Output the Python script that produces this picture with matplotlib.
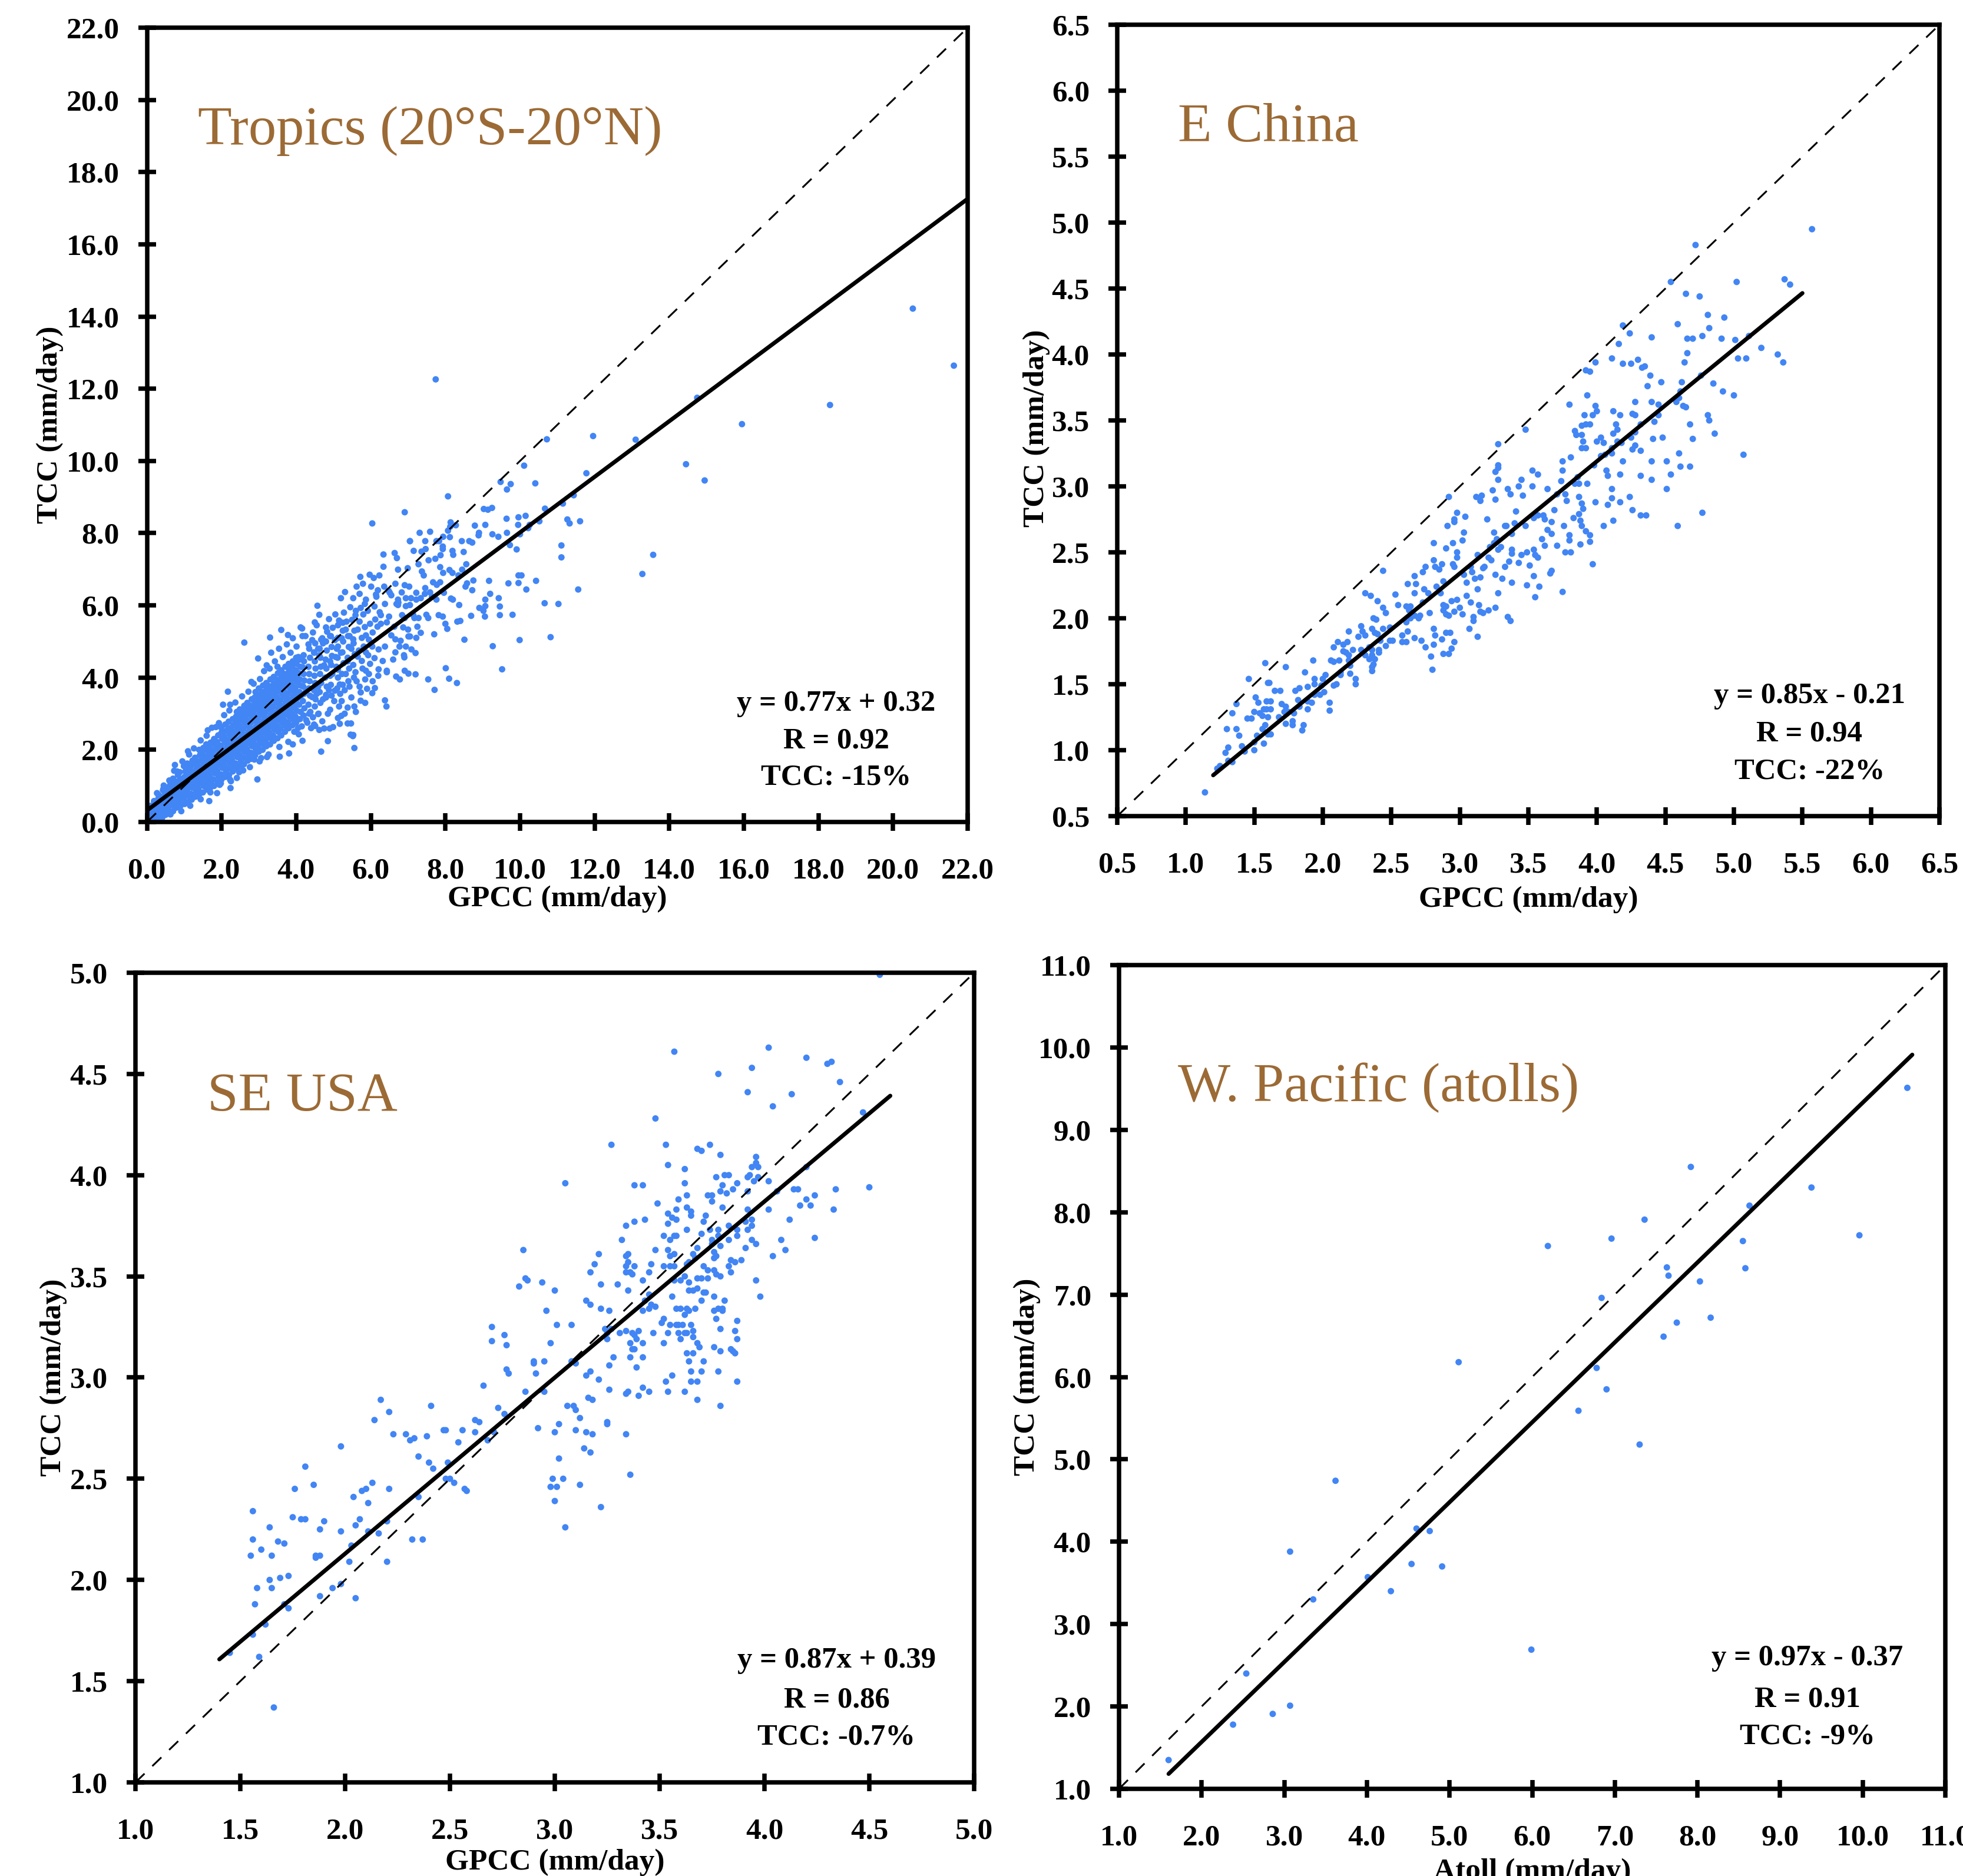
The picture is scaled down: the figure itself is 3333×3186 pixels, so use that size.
import numpy as np
import matplotlib
matplotlib.use("Agg")
import matplotlib.pyplot as plt
from matplotlib.ticker import FormatStrFormatter, MultipleLocator

plt.rcParams['font.family'] = ['Liberation Serif', 'DejaVu Serif']

DOT_COLOR = '#4285F4'
TITLE_COLOR = '#9C6A35'

# ---------------- Tropics (20S-20N) ----------------
tropics_core = [
    (0.04,0.02),(0.07,0.10),(0.03,0.20),(0.06,0.35),
    (0.12,0.05),(0.10,0.15),(0.14,0.30),(0.11,0.45),
    (0.20,0.06),(0.22,0.18),(0.18,0.30),(0.21,0.42),(0.19,0.58),
    (0.30,0.08),(0.28,0.20),(0.32,0.34),(0.29,0.50),(0.31,0.66),(0.27,0.80),
    (0.41,0.12),(0.38,0.25),(0.42,0.40),(0.39,0.55),(0.40,0.70),(0.43,0.88),
    (0.50,0.20),(0.52,0.32),(0.48,0.48),(0.51,0.62),(0.49,0.78),(0.52,0.95),
    (0.61,0.28),(0.58,0.42),(0.62,0.55),(0.60,0.70),(0.59,0.85),(0.62,1.02),
    (0.70,0.30),(0.72,0.45),(0.68,0.60),(0.71,0.75),(0.69,0.90),(0.72,1.05),(0.70,1.20),
    (0.79,0.40),(0.82,0.55),(0.80,0.70),(0.78,0.84),(0.81,0.98),(0.80,1.12),(0.83,1.30),
    (0.90,0.45),(0.88,0.60),(0.92,0.75),(0.89,0.90),(0.91,1.05),(0.90,1.20),(0.88,1.38),
    (1.01,0.50),(0.99,0.66),(1.02,0.80),(1.00,0.95),(0.98,1.10),(1.01,1.25),(1.03,1.40),(0.99,1.55),
    (1.10,0.55),(1.12,0.72),(1.08,0.88),(1.11,1.02),(1.09,1.18),(1.12,1.32),(1.10,1.48),(1.08,1.62),
    (1.20,0.62),(1.18,0.78),(1.22,0.95),(1.19,1.10),(1.21,1.25),(1.20,1.40),(1.18,1.55),(1.22,1.70),
    (1.30,0.70),(1.32,0.85),(1.29,1.00),(1.31,1.15),(1.28,1.30),(1.32,1.45),(1.30,1.60),(1.29,1.78),
    (1.41,0.78),(1.38,0.92),(1.42,1.08),(1.40,1.22),(1.39,1.38),(1.41,1.52),(1.38,1.68),(1.42,1.85),(1.40,2.00),
    (1.50,0.82),(1.52,1.00),(1.48,1.15),(1.51,1.30),(1.49,1.45),(1.52,1.60),(1.50,1.75),(1.48,1.90),(1.51,2.05),
    (1.61,0.90),(1.59,1.05),(1.62,1.20),(1.60,1.36),(1.58,1.52),(1.61,1.68),(1.60,1.82),(1.62,1.98),(1.59,2.15),
    (1.70,0.95),(1.72,1.10),(1.68,1.28),(1.71,1.44),(1.69,1.60),(1.72,1.75),(1.70,1.90),(1.68,2.05),(1.71,2.20),
    (1.80,1.00),(1.78,1.18),(1.82,1.35),(1.79,1.50),(1.81,1.66),(1.80,1.82),(1.78,1.98),(1.82,2.14),(1.80,2.30),
    (1.90,1.10),(1.92,1.25),(1.88,1.42),(1.91,1.58),(1.89,1.74),(1.92,1.90),(1.90,2.05),(1.88,2.22),(1.91,2.40),
    (2.00,1.18),(1.98,1.32),(2.02,1.50),(2.00,1.65),(1.99,1.80),(2.01,1.96),(1.98,2.12),(2.02,2.30),(2.00,2.48),(1.99,2.62),
    (2.10,1.25),(2.12,1.40),(2.08,1.56),(2.11,1.72),(2.09,1.88),(2.12,2.04),(2.10,2.20),(2.08,2.36),(2.11,2.52),(2.10,2.70),
    (2.20,1.30),(2.18,1.48),(2.22,1.64),(2.19,1.80),(2.21,1.96),(2.20,2.12),(2.18,2.28),(2.22,2.44),(2.20,2.60),(2.19,2.78),
    (2.30,1.40),(2.32,1.55),(2.28,1.72),(2.31,1.88),(2.29,2.04),(2.32,2.20),(2.30,2.36),(2.28,2.52),(2.31,2.68),(2.30,2.85),
    (2.40,1.48),(2.38,1.62),(2.42,1.80),(2.39,1.96),(2.41,2.12),(2.40,2.28),(2.38,2.44),(2.42,2.60),(2.40,2.76),(2.39,2.92),(2.41,3.05),
    (2.50,1.55),(2.52,1.70),(2.48,1.86),(2.51,2.02),(2.49,2.18),(2.52,2.34),(2.50,2.50),(2.48,2.66),(2.51,2.82),(2.50,2.98),(2.49,3.12),
    (2.60,1.60),(2.58,1.78),(2.62,1.94),(2.59,2.10),(2.61,2.26),(2.60,2.42),(2.58,2.58),(2.62,2.74),(2.60,2.90),(2.59,3.06),(2.61,3.22),
    (2.70,1.70),(2.72,1.85),(2.68,2.02),(2.71,2.18),(2.69,2.34),(2.72,2.50),(2.70,2.66),(2.68,2.82),(2.71,2.98),(2.70,3.14),(2.69,3.30),
    (2.80,1.75),(2.78,1.92),(2.82,2.10),(2.79,2.26),(2.81,2.42),(2.80,2.58),(2.78,2.74),(2.82,2.90),(2.80,3.06),(2.79,3.22),(2.81,3.40),
    (2.90,1.85),(2.92,2.00),(2.88,2.16),(2.91,2.32),(2.89,2.48),(2.92,2.64),(2.90,2.80),(2.88,2.96),(2.91,3.12),(2.90,3.28),(2.89,3.45),(2.91,3.60),
    (3.00,1.95),(2.98,2.10),(3.02,2.25),(2.99,2.40),(3.01,2.56),(3.00,2.72),(2.98,2.88),(3.02,3.04),(3.00,3.20),(2.99,3.36),(3.01,3.52),(3.00,3.70),
    (3.10,2.00),(3.12,2.16),(3.08,2.32),(3.11,2.48),(3.09,2.64),(3.12,2.80),(3.10,2.96),(3.08,3.12),(3.11,3.28),(3.10,3.44),(3.09,3.60),(3.11,3.78),
    (3.20,2.10),(3.18,2.25),(3.22,2.40),(3.19,2.56),(3.21,2.72),(3.20,2.88),(3.18,3.04),(3.22,3.20),(3.20,3.36),(3.19,3.52),(3.21,3.68),(3.20,3.85),
    (3.30,2.15),(3.32,2.32),(3.28,2.48),(3.31,2.64),(3.29,2.80),(3.32,2.96),(3.30,3.12),(3.28,3.28),(3.31,3.44),(3.30,3.60),(3.29,3.76),(3.31,3.95),
    (3.40,2.25),(3.38,2.40),(3.42,2.56),(3.39,2.72),(3.41,2.88),(3.40,3.04),(3.38,3.20),(3.42,3.36),(3.40,3.52),(3.39,3.68),(3.41,3.84),(3.40,4.02),
    (3.50,2.32),(3.52,2.50),(3.48,2.66),(3.51,2.82),(3.49,2.98),(3.52,3.14),(3.50,3.30),(3.48,3.46),(3.51,3.62),(3.50,3.78),(3.49,3.94),(3.51,4.12),(3.50,4.30),
    (3.60,2.40),(3.58,2.58),(3.62,2.74),(3.59,2.90),(3.61,3.06),(3.60,3.22),(3.58,3.38),(3.62,3.54),(3.60,3.70),(3.59,3.86),(3.61,4.02),(3.60,4.20),
    (3.70,2.50),(3.72,2.66),(3.68,2.82),(3.71,2.98),(3.69,3.14),(3.72,3.30),(3.70,3.46),(3.68,3.62),(3.71,3.78),(3.70,3.94),(3.69,4.10),(3.71,4.30),
    (3.80,2.60),(3.78,2.76),(3.82,2.92),(3.79,3.08),(3.81,3.24),(3.80,3.40),(3.78,3.56),(3.82,3.72),(3.80,3.88),(3.79,4.04),(3.81,4.20),(3.80,4.38),
    (3.90,2.68),(3.92,2.84),(3.88,3.00),(3.91,3.16),(3.89,3.32),(3.92,3.48),(3.90,3.64),(3.88,3.80),(3.91,3.96),(3.90,4.12),(3.89,4.30),(3.91,4.45),
    (4.00,2.75),(3.98,2.92),(4.02,3.08),(3.99,3.24),(4.01,3.40),(4.00,3.56),(3.98,3.72),(4.02,3.88),(4.00,4.04),(3.99,4.20),(4.01,4.38),(4.00,4.55),
    (4.10,2.85),(4.12,3.05),(4.08,3.25),(4.11,3.45),(4.09,3.60),(4.12,3.78),(4.10,3.95),(4.08,4.12),(4.11,4.30),(4.10,4.50),
    (4.20,2.95),(4.22,3.15),(4.18,3.35),(4.21,3.55),(4.19,3.75),(4.22,3.92),(4.20,4.10),(4.18,4.28),(4.21,4.45),(4.20,4.62),
    (4.35,3.00),(4.33,3.25),(4.37,3.50),(4.34,3.70),(4.36,3.90),(4.35,4.10),(4.33,4.30),(4.37,4.55),(4.35,4.80),
    (4.50,3.20),(4.52,3.40),(4.48,3.65),(4.51,3.85),(4.49,4.05),(4.52,4.25),(4.50,4.45),(4.48,4.70),(4.51,4.95),
    (4.65,3.30),(4.63,3.60),(4.67,3.85),(4.64,4.10),(4.66,4.30),(4.65,4.55),(4.63,4.80),(4.67,5.05),
    (4.80,3.45),(4.82,3.75),(4.78,4.00),(4.81,4.25),(4.79,4.50),(4.82,4.75),(4.80,5.00),
    (4.95,3.50),(4.93,3.80),(4.97,4.10),(4.94,4.35),(4.96,4.60),(4.95,4.85),(4.93,5.15),
    (5.10,3.70),(5.12,4.00),(5.08,4.30),(5.11,4.55),(5.09,4.80),(5.12,5.10),
    (5.25,3.80),(5.23,4.10),(5.27,4.40),(5.24,4.70),(5.26,5.00),(5.25,5.30),
    (5.40,3.90),(5.42,4.25),(5.38,4.55),(5.41,4.85),(5.39,5.15),
    (5.55,4.00),(5.53,4.35),(5.57,4.65),(5.54,4.95),(5.56,5.30),
    (3.95,2.50),(4.05,2.60),(4.15,2.65),(4.30,2.75),(4.45,2.90),(4.60,3.00),
]

tropics_fringe = [
    (4.12,5.39),(4.17,5.15),(4.33,4.92),(4.43,5.04),(4.59,4.80),(4.48,4.69),(4.70,5.09),(4.83,5.27),
    (4.91,5.15),(5.04,5.04),(5.12,4.86),(5.22,5.09),(5.33,5.33),(5.43,5.15),(5.20,4.69),(5.06,4.57),
    (4.91,4.45),(4.75,4.34),(5.38,4.45),(5.48,4.80),(5.12,4.22),(5.33,4.10),(4.91,4.05),(5.17,3.81),
    (5.43,3.75),(5.04,3.64),(4.80,3.52),(4.59,3.75),(4.43,3.46),(4.27,3.64),(5.22,3.35),(5.38,3.17),
    (4.91,3.11),(4.59,2.99),(5.12,2.88),(4.38,3.05),(4.27,2.82),(4.48,2.70),(4.70,2.79),
    (3.54,4.80),(3.75,4.92),(3.85,4.69),(4.01,4.86),(3.64,4.57),(3.43,4.45),(3.29,4.25),(3.14,4.18),
    (3.03,3.96),(2.86,3.83),(2.72,3.61),(2.55,3.48),(2.37,3.31),(2.21,3.09),(2.07,2.96),(1.93,2.74),
    (1.74,2.61),(1.60,2.39),(1.44,2.26),(1.26,2.04),(1.13,1.87),(0.95,1.68),(0.81,1.40),(0.60,1.15),
    (0.44,0.92),(3.33,4.69),(3.91,5.09),(4.06,4.57),
    (1.44,0.63),(1.70,0.82),(1.95,1.03),(2.23,1.17),(2.47,1.38),(2.76,1.52),(3.02,1.68),(3.26,1.87),
    (3.55,2.08),(3.79,2.22),(4.07,2.43),(1.16,0.45),(0.92,0.30),(0.63,0.21),(0.37,0.12),
    (4.45,5.25),(4.55,5.45),(4.62,4.62),(4.72,4.95),(4.88,5.62),(4.98,5.38),(5.05,5.75),(5.15,5.58),
    (5.28,5.80),(5.35,5.55),(5.45,5.95),(5.50,5.60),(5.60,5.85),(5.70,5.55),(5.80,5.75),(5.92,5.85),
    (5.68,4.75),(5.78,4.25),(5.95,5.05),(6.05,5.25),(5.62,3.90),(5.85,3.95),(4.55,3.55),(4.72,3.40),
    (4.88,3.65),(5.02,3.35),(5.18,3.55),(5.30,3.65),(5.48,3.45),(5.15,3.20),(4.85,3.00),(5.30,3.00),
    (4.40,2.60),(4.62,2.55),(5.60,3.05),(5.85,3.30),(6.05,3.90),(6.20,4.05),(5.95,4.10),
]

tropics_outer = [
    (2.61,4.97),(2.98,4.53),(2.17,3.61),(2.04,3.25),(2.23,3.25),(2.80,3.88),(3.21,4.34),
    (3.30,5.11),(3.60,5.32),(3.78,5.18),(4.16,5.36),(4.25,5.15),(4.50,5.53),(4.57,5.99),
    (4.62,5.74),(4.80,5.39),(5.20,6.20),(5.31,6.37),(5.12,5.45),(5.25,5.52),
    (1.63,2.54),(1.85,2.63),(1.10,1.96),(0.75,1.58),(0.73,1.42),(0.45,1.01),(0.31,0.75),
    (1.67,0.58),(2.24,0.94),(1.88,0.80),(2.96,1.18),(3.56,1.81),(3.81,1.90),(4.67,1.95),
    (4.85,2.24),(5.47,2.73),(5.17,2.72),(5.46,2.42),(5.52,2.38),(4.75,2.59),(4.90,2.59),
    (4.99,2.63),(5.21,2.94),(4.51,2.66),(5.38,2.73),(4.17,2.25),(3.91,2.15),(3.06,1.77),
    (2.88,1.73),(3.22,1.80),(2.58,1.43),(2.41,1.22),(2.25,1.13),(1.98,1.07),
    (5.53,5.06),(5.65,5.33),(5.84,5.40),(5.87,5.17),(5.76,5.10),(5.98,5.49),(6.12,5.61),
    (6.27,5.73),(6.27,5.49),(6.18,5.41),(6.43,5.53),(6.49,5.69),(6.55,5.17),(6.66,5.06),
    (6.80,5.02),(6.77,4.86),(6.38,4.86),(6.21,4.78),(6.04,4.86),(5.93,4.62),(5.76,4.46),
    (5.65,4.58),(5.81,4.86),(5.87,4.70),(6.10,4.54),(6.32,4.46),(6.60,4.50),(6.89,4.62),
    (7.05,5.14),(5.59,4.15),(5.70,3.75),(5.90,3.69),(5.73,3.36),(5.56,3.20),(5.87,4.19),
    (6.21,4.23),(6.43,4.19),(5.98,4.38),(6.66,4.70),(6.94,4.86),(6.63,5.41),(6.91,5.65),
    (6.38,6.04),(6.24,5.81),(6.10,5.97),(5.84,6.04),(5.73,5.93),(5.59,5.73),(5.53,6.20),
    (5.70,6.32),(5.87,6.16),(6.01,6.52),(5.79,6.60),(5.62,6.52),(6.15,6.24),(6.69,6.04),
    (6.55,6.28),(6.83,6.36),(7.08,6.20),(7.14,5.73),(7.00,5.33),(7.22,5.10),
    (5.72,6.79),(5.97,6.85),(6.08,6.76),(6.23,6.83),(6.34,7.41),(6.34,7.07),(6.64,7.45),
    (6.70,7.31),(6.73,6.99),(6.99,7.03),(7.05,7.78),(7.28,7.14),(7.37,6.94),(7.42,6.83),
    (6.36,6.52),(6.19,6.42),(6.14,6.30),(6.51,6.35),(6.48,6.40),(6.66,6.60),(6.91,6.56),
    (7.03,6.52),(7.22,6.35),(7.46,6.48),(7.67,6.64),(7.77,6.57),(7.86,6.64),(7.96,6.35),
    (7.76,6.16),(7.59,6.36),(7.64,6.24),(7.45,6.32),(7.34,6.20),(7.22,6.16),(6.94,6.20),
    (6.73,6.16),(6.73,6.01),(6.74,6.08),(6.94,5.98),(7.05,6.01),(7.17,5.65),(7.28,5.65),
    (7.25,5.41),(7.34,5.24),(7.49,5.74),(7.54,5.65),(7.70,5.20),(7.82,5.73),(7.93,5.69),
    (6.84,5.73),(6.87,5.39),(7.01,5.14),(7.09,4.78),(7.20,4.68),(6.90,4.56),(6.91,4.19),
    (7.01,4.11),(6.78,3.95),(7.20,4.09),(7.54,3.95),(7.71,3.66),(6.43,4.15),(6.68,4.03),
    (6.38,3.37),(6.42,3.20),(5.73,3.59),(6.04,3.57),(6.11,3.71),(5.53,2.41),(5.56,2.05),
    (7.74,12.26),(10.72,10.60),(11.96,10.69),(13.10,10.59),(10.11,9.87),(11.78,9.66),
    (9.48,9.42),(9.75,9.36),(9.65,9.21),(10.41,9.38),(8.07,9.02),(6.91,8.58),(6.04,8.27),
    (9.03,8.67),(9.14,8.65),(9.25,8.70),(10.67,8.68),(11.15,8.82),(11.44,9.05),(11.27,8.38),
    (11.33,8.27),(11.61,8.33),(10.52,8.33),(10.26,8.23),(10.22,8.14),(9.64,8.40),(9.96,8.44),
    (10.15,8.48),(9.95,8.23),(10.00,7.97),(9.73,7.67),(9.91,7.55),(9.65,8.01),(9.42,7.90),
    (9.26,7.97),(9.07,8.23),(8.90,8.01),(8.89,7.94),(8.79,8.21),(8.64,7.78),(8.72,7.74),
    (8.44,7.78),(8.14,8.30),(8.28,8.22),(8.13,8.18),(8.07,8.07),(8.12,7.89),(7.94,7.90),
    (7.76,7.78),(7.83,7.78),(7.93,7.63),(7.93,7.56),(7.87,7.39),(7.73,7.29),(7.46,7.78),
    (7.59,8.04),(7.31,8.01),(7.05,7.78),(7.15,7.51),(7.36,7.49),(7.47,7.56),(7.55,7.25),
    (7.86,7.06),(7.94,6.90),(8.19,7.51),(8.21,7.40),(8.49,7.48),(8.11,6.98),(8.19,6.90),
    (8.35,6.83),(8.45,6.99),(8.56,7.14),(8.75,6.69),(8.58,6.61),(8.54,6.52),(8.72,6.42),
    (9.17,6.68),(9.20,6.32),(9.07,6.16),(9.07,5.98),(8.91,5.93),(9.02,5.85),(9.06,5.69),
    (8.69,5.71),(8.37,6.01),(8.15,6.19),(8.20,6.16),(8.32,5.55),(8.40,5.57),(8.51,5.05),
    (8.00,5.49),(8.05,5.35),(8.01,4.26),(8.10,3.97),(8.31,3.85),(9.27,4.87),(9.52,4.23),
    (9.99,5.04),(9.80,5.74),(9.43,6.20),(9.46,5.97),(9.46,5.73),(9.69,6.61),(9.96,6.62),
    (9.96,6.83),(10.04,6.83),(10.17,6.44),(10.43,6.68),(10.66,6.06),(11.03,6.04),(10.82,5.12),
    (11.56,6.44),(11.11,7.66),(11.11,7.33),(13.28,6.87),(13.57,7.40),(14.45,9.91),(14.95,9.46),
    (14.75,11.75),(15.95,11.02),(18.31,11.55),(20.53,14.22),(21.63,12.64),
]

# ---------------- E China ----------------
echina = [
    (1.14,0.68),(1.23,0.86),(1.25,0.88),(1.31,0.92),(1.34,0.91),(1.29,0.98),(1.31,1.02),(1.41,1.03),
    (1.43,0.99),(1.30,1.16),(1.37,1.16),(1.39,1.11),(1.34,1.28),(1.37,1.35),(1.46,1.54),(1.50,1.06),
    (1.50,1.00),(1.52,1.11),(1.57,1.05),(1.45,1.24),(1.48,1.24),(1.51,1.40),(1.53,1.36),(1.50,1.29),
    (1.54,1.28),(1.56,1.26),(1.57,1.31),(1.60,1.25),(1.59,1.31),(1.59,1.37),(1.62,1.37),(1.62,1.31),
    (1.56,1.16),(1.58,1.19),(1.60,1.12),(1.62,1.12),(1.60,1.51),(1.61,1.51),(1.58,1.66),(1.65,1.45),
    (1.69,1.45),(1.70,1.35),(1.73,1.33),(1.68,1.25),(1.72,1.29),(1.75,1.29),(1.73,1.20),(1.78,1.22),
    (1.78,1.19),(1.73,1.63),(1.79,1.28),(1.82,1.38),(1.83,1.33),(1.80,1.45),(1.83,1.47),(1.89,1.48),
    (1.89,1.37),(1.89,1.31),(1.92,1.36),(1.86,1.19),(1.85,1.15),(1.87,1.59),(1.93,1.68),(1.94,1.54),
    (1.94,1.50),(1.94,1.42),(1.98,1.42),(2.01,1.44),(1.99,1.49),(2.00,1.54),(2.02,1.57),(2.05,1.36),
    (2.05,1.30),(2.06,1.68),(2.08,1.67),(2.08,1.78),(2.11,1.82),(2.12,1.68),(2.08,1.49),(2.10,1.50),
    (2.13,1.57),(2.13,1.59),(2.15,1.80),(2.18,1.82),(2.19,1.90),(2.15,1.75),(2.17,1.74),(2.19,1.68),
    (2.20,1.64),(2.20,1.58),(2.19,1.72),(2.22,1.76),(2.24,1.54),(2.24,1.50),(2.26,1.86),(2.28,1.94),
    (2.29,1.90),(2.31,1.87),(2.28,1.76),(2.31,2.19),(2.35,2.17),(2.34,1.78),(2.31,1.72),(2.36,1.76),
    (2.34,1.69),(2.36,1.63),(2.36,1.60),(2.37,1.65),(2.38,1.69),(2.36,1.72),(2.36,1.92),(2.37,2.00),
    (2.39,1.99),(2.40,2.13),(2.38,1.89),(2.40,1.88),(2.42,1.83),(2.41,1.76),(2.41,1.74),(2.44,1.92),
    (2.44,2.08),(2.46,2.04),(2.44,2.36),(2.49,1.93),(2.46,1.79),(2.49,1.83),(2.51,1.83),(2.58,1.87),
    (2.58,1.82),(2.61,1.82),(2.53,2.18),(2.55,2.10),(2.61,2.09),(2.64,2.09),(2.63,2.06),(2.62,2.26),
    (2.61,1.97),(2.64,2.00),(2.62,1.90),(2.67,2.02),(2.70,2.00),(2.71,2.02),(2.67,2.19),(2.67,2.32),
    (2.68,2.26),(2.67,1.85),(2.72,1.83),(2.73,2.12),(2.74,2.22),(2.77,2.19),(2.73,2.35),(2.75,2.39),
    (2.75,1.78),(2.78,2.04),(2.79,1.71),(2.80,1.61),(2.81,2.44),(2.82,2.39),(2.85,2.37),(2.83,2.24),
    (2.81,2.57),(2.81,1.92),(2.82,1.87),(2.81,1.80),(2.86,2.19),(2.87,2.41),(2.88,2.10),(2.88,2.06),
    (2.90,2.09),(2.90,2.03),(2.92,2.02),(2.88,2.28),(2.90,2.53),(2.91,2.70),(2.96,2.75),(2.96,2.73),
    (2.95,2.57),(2.95,2.41),(2.96,2.39),(2.94,2.13),(2.96,2.05),(2.98,2.14),(2.98,2.46),(2.98,2.50),
    (3.02,2.59),(3.03,2.65),(3.04,2.77),(2.98,2.80),(3.00,2.08),(3.02,2.03),(2.87,1.84),(2.90,1.89),
    (2.93,1.89),(2.88,1.73),(2.92,1.73),(2.96,1.82),(2.94,1.77),(3.03,2.33),(3.05,2.27),(3.05,2.17),
    (3.08,2.39),(3.08,2.12),(3.09,2.35),(3.10,2.01),(3.10,1.98),(3.07,1.92),(3.13,1.86),(3.13,2.22),
    (3.11,2.30),(3.15,2.31),(3.13,2.48),(3.14,2.10),(3.17,2.04),(3.15,2.05),(3.17,2.38),(3.18,2.39),
    (3.21,2.06),(3.21,2.46),(3.23,2.44),(3.20,2.75),(3.25,2.65),(3.26,2.33),(3.26,2.08),(3.28,2.19),
    (3.22,2.54),(3.25,2.57),(3.27,2.60),(3.28,2.52),(3.30,2.54),(3.31,2.30),(3.33,2.70),(3.34,2.70),
    (3.35,2.01),(3.37,1.98),(3.36,2.43),(3.33,2.39),(3.38,2.52),(3.38,2.49),(3.38,2.64),(3.38,2.27),
    (3.41,2.81),(3.40,2.72),(3.43,2.42),(3.45,2.48),(3.48,2.70),(3.49,2.50),(3.49,2.25),(3.51,2.40),
    (3.75,2.20),(3.55,2.16),(2.92,2.92),
    (5.57,4.95),(4.72,4.83),(4.54,4.55),(5.02,4.55),(5.37,4.57),(5.41,4.53),(4.65,4.46),(4.75,4.44),
    (4.81,4.30),(4.93,4.28),(4.59,4.23),(4.82,4.20),(4.19,4.22),(4.24,4.16),(4.40,4.13),(4.66,4.12),
    (4.70,4.12),(4.77,4.14),(4.91,4.12),(5.01,4.11),(5.11,4.14),(4.16,4.08),(4.66,4.01),(4.64,3.94),
    (4.11,3.97),(3.99,3.94),(4.19,3.93),(4.25,3.93),(4.30,3.96),(4.33,3.90),(4.35,3.91),(5.03,3.97),
    (5.09,3.97),(5.20,4.05),(5.32,4.00),(5.36,3.94),(3.92,3.88),(3.95,3.87),(4.39,3.84),(4.37,3.76),
    (4.47,3.79),(4.62,3.79),(4.85,3.78),(4.92,3.72),(5.00,3.69),(4.76,3.84),(4.61,3.72),(4.60,3.67),
    (4.58,3.64),(3.93,3.69),(3.80,3.62),(3.99,3.61),(4.00,3.57),(3.91,3.54),(3.97,3.54),(4.12,3.57),
    (4.17,3.54),(4.26,3.55),(4.28,3.64),(4.40,3.64),(4.45,3.62),(4.28,3.54),(4.63,3.61),(4.65,3.60),
    (4.45,3.54),(4.42,3.49),(4.32,3.47),(4.81,3.54),(4.82,3.50),(4.68,3.47),(4.86,3.40),(3.89,3.46),
    (3.92,3.47),(3.95,3.47),(4.14,3.47),(3.84,3.42),(3.85,3.39),(3.89,3.39),(3.90,3.34),(3.89,3.29),
    (3.92,3.29),(4.03,3.37),(4.00,3.34),(4.05,3.33),(4.12,3.40),(4.15,3.43),(4.15,3.34),(4.18,3.33),
    (4.28,3.41),(4.25,3.37),(4.28,3.31),(4.26,3.28),(4.32,3.27),(4.41,3.36),(4.48,3.37),(4.70,3.36),
    (4.11,3.29),(4.11,3.25),(4.06,3.24),(4.03,3.23),(3.98,3.16),(4.19,3.19),(4.40,3.19),(4.51,3.19),
    (4.60,3.25),(4.61,3.15),(4.68,3.15),(5.07,3.24),(3.81,3.22),(3.75,3.19),(3.75,3.12),(3.86,3.07),
    (3.84,3.02),(3.87,3.02),(3.93,3.02),(4.07,3.12),(4.08,3.08),(4.17,3.09),(4.32,3.08),(4.40,3.05),
    (4.54,3.09),(4.51,2.98),(4.11,2.98),(4.24,2.92),(4.26,2.82),(4.32,2.78),(4.36,2.78),(4.11,2.91),
    (4.17,2.88),(3.99,2.88),(4.08,2.86),(4.05,2.70),(4.12,2.74),(4.59,2.70),(4.77,2.80),(3.87,2.92),
    (3.89,2.87),(3.90,2.83),(3.87,2.79),(3.88,2.74),(3.89,2.70),(3.92,2.66),(3.95,2.63),(3.95,2.58),
    (3.97,2.41),(3.83,2.76),(3.76,2.70),(3.80,2.63),(3.80,2.59),(3.77,2.50),(3.81,2.50),(3.88,2.56),
    (3.71,2.55),(3.67,2.73),(3.67,2.64),(3.60,2.60),(3.62,2.55),(3.64,2.67),(3.69,2.82),(3.57,2.78),
    (3.54,2.76),(3.54,2.52),(3.55,2.48),(3.57,2.46),(3.67,2.36),(3.66,2.34),(3.54,2.32),(3.58,2.24),
    (3.61,2.78),(3.62,2.75),(3.77,2.94),(3.78,2.89),(3.71,2.94),(3.74,3.04),(3.64,2.98),(3.53,3.00),
    (3.53,3.12),(3.57,3.09),(3.45,3.05),(3.43,3.00),(3.35,2.98),(3.37,2.94),(3.46,2.93),(3.24,2.97),
    (3.26,2.90),(3.16,2.93),(3.15,2.89),(3.12,2.92),(3.28,3.16),(3.28,3.05),(3.26,3.11),(3.28,3.14),
    (3.48,3.43),(3.28,3.32),
]

# ---------------- SE USA ----------------
seusa = [
    (1.45,1.64),(1.56,1.73),(1.59,1.62),(1.62,1.78),(1.66,1.37),(1.71,1.88),(1.73,1.86),(1.57,1.88),
    (1.58,1.96),(1.64,2.00),(1.65,1.96),(1.69,2.01),(1.73,2.02),(1.55,2.12),(1.60,2.15),(1.65,2.12),
    (1.56,2.20),(1.68,2.19),(1.71,2.18),(1.56,2.34),(1.64,2.26),(1.75,2.31),(1.76,2.45),(1.79,2.30),
    (1.81,2.30),(1.81,2.56),(1.85,2.47),(1.88,2.25),(1.90,2.29),(1.86,2.12),(1.86,2.11),(1.88,2.12),
    (1.88,1.92),(1.94,1.96),(1.98,1.98),(1.98,2.24),(1.98,2.66),(2.02,2.09),(2.03,2.17),(2.05,1.91),
    (2.04,2.41),(2.05,2.27),(2.07,2.30),(2.08,2.44),(2.10,2.45),(2.11,2.38),(2.11,2.24),(2.13,2.48),
    (2.16,2.23),(2.17,2.89),(2.20,2.29),(2.20,2.09),(2.21,2.45),(2.21,2.83),(2.14,2.79),(2.23,2.72),
    (2.29,2.72),(2.31,2.69),(2.33,2.70),(2.32,2.20),(2.37,2.20),(2.35,2.41),(2.35,2.61),(2.39,2.71),
    (2.40,2.58),(2.41,2.86),(2.42,2.55),(2.47,2.74),(2.48,2.74),(2.49,2.58),(2.48,2.50),(2.50,2.50),
    (2.52,2.48),(2.54,2.68),(2.56,2.74),(2.57,2.45),(2.58,2.44),(2.62,2.79),(2.64,2.78),(2.62,2.73),
    (2.66,2.96),(2.68,2.69),(2.71,2.73),(2.73,2.85),(2.76,2.82),(2.70,3.18),(2.70,3.25),(2.76,3.21),
    (2.77,3.16),(2.77,3.04),(2.78,3.02),(2.86,2.93),(2.90,3.08),(2.90,3.07),(2.91,3.02),(2.95,3.08),
    (2.98,3.17),(2.92,2.75),(2.95,2.93),(2.99,2.50),(2.98,2.46),(3.00,2.39),(3.00,2.73),(3.02,2.60),
    (3.02,2.77),(3.01,2.46),(3.05,2.26),(3.22,2.36),(3.12,2.47),(3.04,2.50),
    (3.57,4.61),(4.02,4.63),(4.20,4.58),(4.30,4.55),(4.32,4.56),(3.94,4.53),(3.78,4.50),(4.36,4.46),
    (3.92,4.41),(4.13,4.40),(4.04,4.34),(3.48,4.28),(4.47,4.31),(3.27,4.15),(3.53,4.15),(3.68,4.13),
    (3.70,4.12),(3.74,4.15),(3.79,4.10),(3.54,4.05),(3.62,4.03),(3.96,4.09),(3.96,4.06),(3.94,4.04),
    (3.97,4.04),(4.20,4.04),(3.05,3.96),(3.38,3.95),(3.42,3.95),(3.62,3.96),(3.77,3.99),(3.81,4.00),
    (3.83,4.00),(3.92,3.99),(3.93,4.00),(3.97,3.99),(3.95,3.97),(4.02,3.97),(3.80,3.95),(3.87,3.96),
    (3.79,3.92),(3.82,3.91),(3.85,3.93),(3.63,3.90),(3.73,3.90),(3.75,3.90),(3.75,3.87),(3.92,3.92),
    (4.06,3.92),(4.14,3.93),(4.16,3.93),(4.24,3.90),(4.34,3.93),(4.50,3.94),(3.49,3.86),(3.59,3.88),
    (3.63,3.84),(3.65,3.82),(3.65,3.80),(3.58,3.83),(3.80,3.84),(3.92,3.83),(4.02,3.83),(4.20,3.88),
    (4.17,3.85),(4.22,3.85),(4.33,3.83),(3.54,3.81),(3.56,3.79),(3.58,3.78),(3.54,3.76),(3.72,3.80),
    (3.71,3.77),(3.63,3.73),(3.43,3.78),(3.38,3.77),(3.34,3.75),(3.70,3.71),(3.74,3.73),(3.78,3.73),
    (3.83,3.75),(3.87,3.73),(3.91,3.77),(3.94,3.78),(3.94,3.75),(4.12,3.78),(3.52,3.70),(3.55,3.68),
    (3.57,3.70),(3.58,3.70),(3.32,3.68),(3.75,3.68),(3.78,3.70),(3.83,3.68),(3.87,3.70),(3.92,3.73),
    (3.94,3.68),(3.96,3.66),(4.08,3.68),(4.24,3.69),(3.75,3.66),(3.79,3.65),(3.68,3.64),(3.48,3.63),
    (3.54,3.63),(4.10,3.63),(3.21,3.61),(3.34,3.60),(3.35,3.61),(3.57,3.61),(3.55,3.60),(3.66,3.61),
    (3.67,3.59),(3.76,3.62),(3.77,3.60),(3.76,3.59),(3.91,3.64),(4.04,3.60),(3.19,3.56),(3.34,3.55),
    (3.35,3.57),(3.38,3.55),(3.46,3.56),(3.52,3.55),(3.55,3.55),(3.57,3.55),(3.63,3.56),(3.64,3.57),
    (3.71,3.55),(3.73,3.53),(3.76,3.53),(3.77,3.51),(3.79,3.50),(3.84,3.58),(3.86,3.57),(3.89,3.58),
    (3.83,3.55),(3.84,3.52),(3.17,3.52),(3.34,3.52),(3.36,3.52),(3.37,3.51),(3.45,3.52),(3.42,3.48),
    (3.22,3.46),(3.30,3.46),(3.57,3.48),(3.60,3.48),(3.62,3.50),(3.64,3.47),(3.68,3.49),(3.70,3.49),
    (3.73,3.49),(3.96,3.48),(3.35,3.43),(3.56,3.40),(3.64,3.43),(3.66,3.43),(3.68,3.44),(3.71,3.42),
    (3.72,3.42),(3.76,3.40),(3.81,3.38),(3.98,3.40),(3.45,3.41),(3.15,3.38),(3.17,3.36),(3.43,3.38),
    (3.46,3.36),(3.48,3.35),(3.45,3.34),(3.22,3.34),(3.26,3.33),(3.42,3.33),(3.58,3.34),(3.60,3.34),
    (3.63,3.34),(3.64,3.33),(3.62,3.31),(3.67,3.34),(3.70,3.38),(3.76,3.33),(3.78,3.34),(3.80,3.34),
    (3.80,3.33),(3.77,3.29),(3.87,3.28),(3.51,3.27),(3.52,3.29),(3.55,3.26),(3.58,3.26),(3.59,3.26),
    (3.61,3.26),(3.65,3.26),(3.66,3.23),(3.47,3.22),(3.54,3.22),(3.59,3.22),(3.62,3.22),(3.63,3.22),
    (3.66,3.20),(3.79,3.24),(3.86,3.23),(3.31,3.22),(3.34,3.23),(3.37,3.22),(3.38,3.21),(3.40,3.23),
    (3.39,3.19),(3.42,3.17),(3.36,3.17),(3.37,3.14),(3.38,3.14),(3.52,3.17),(3.60,3.19),(3.68,3.17),
    (3.69,3.15),(3.87,3.19),(3.76,3.15),(3.79,3.13),(3.84,3.14),(3.86,3.12),(3.85,3.13),(3.66,3.12),
    (3.63,3.12),(3.42,3.10),(3.36,3.10),(3.28,3.10),(3.26,3.06),(3.39,3.05),(3.64,3.08),(3.71,3.08),
    (3.17,3.03),(3.15,3.01),(3.56,3.01),(3.65,3.03),(3.70,3.03),(3.78,3.03),(3.87,2.98),(3.53,2.98),
    (3.65,2.98),(3.68,2.98),(3.21,2.99),(3.26,2.94),(3.34,2.92),(3.35,2.93),(3.42,2.95),(3.45,2.93),
    (3.40,2.91),(3.54,2.93),(3.62,2.93),(3.68,2.89),(3.79,2.86),(3.16,2.90),(3.18,2.89),(3.06,2.86),
    (3.09,2.86),(3.10,2.84),(3.12,2.80),(3.25,2.78),(3.25,2.77),(3.10,2.74),(3.15,2.73),(3.18,2.72),
    (3.34,2.72),(3.14,2.65),(3.17,2.63),(3.36,2.52),
    (2.85,3.63),(2.86,3.49),(2.87,3.48),(2.83,3.45),(2.94,3.47),(3.00,3.43),(2.96,3.33),(3.01,3.26),
    (3.08,3.26),(3.08,3.08),(3.10,3.07),(3.25,3.19),(3.25,3.22),(3.24,3.24),(3.27,3.24),
    (4.55,4.99),
]

# ---------------- W. Pacific (atolls) ----------------
atoll_x = [1.60, 2.38, 2.54, 2.86, 3.07, 3.07, 3.35, 3.62, 4.01, 4.29, 4.54, 4.60, 4.76,
           4.91, 5.11, 5.99, 6.19, 6.56, 6.78, 6.84, 6.90, 6.96, 7.30, 7.36, 7.59, 7.63,
           7.65, 7.75, 7.92, 8.03, 8.16, 8.55, 8.58, 8.63, 9.38, 9.96, 10.54]
atoll_y = [1.35, 1.78, 2.40, 1.91, 2.01, 3.88, 3.30, 4.74, 3.57, 3.40, 3.73, 4.16, 4.13,
           3.70, 6.18, 2.69, 7.59, 5.59, 6.11, 6.96, 5.85, 7.68, 5.18, 7.91, 6.49, 7.33,
           7.23, 6.66, 8.55, 7.16, 6.72, 7.65, 7.32, 8.08, 8.30, 7.72, 9.51]

# ---------------- panel settings ----------------
titles = ["Tropics (20°S-20°N)", "E China", "SE USA", "W. Pacific (atolls)"]
xlabels = ["GPCC (mm/day)", "GPCC (mm/day)", "GPCC (mm/day)", "Atoll (mm/day)"]
slopes = [0.77, 0.85, 0.87, 0.97]
intercepts = [0.32, -0.21, 0.39, -0.37]
fit_ranges = [(0.0, 22.0), (1.2, 5.5), (1.4, 4.6), (1.6, 10.6)]
stat_lines = [
    ["y = 0.77x + 0.32", "R = 0.92", "TCC: -15%"],
    ["y = 0.85x - 0.21", "R = 0.94", "TCC: -22%"],
    ["y = 0.87x + 0.39", "R = 0.86", "TCC: -0.7%"],
    ["y = 0.97x - 0.37", "R = 0.91", "TCC: -9%"],
]
limits = [(0.0, 22.0, 2.0), (0.5, 6.5, 0.5), (1.0, 5.0, 0.5), (1.0, 11.0, 1.0)]

tro = np.array(tropics_core + tropics_fringe + tropics_outer)
ech = np.array(echina)
sea = np.array(seusa)
data = [(tro[:, 0], tro[:, 1]), (ech[:, 0], ech[:, 1]), (sea[:, 0], sea[:, 1]),
        (np.array(atoll_x), np.array(atoll_y))]

# layout (figure fractions)
rects = [
    [0.07486, 0.56183, 0.41809, 0.42341],
    [0.56916, 0.56497, 0.41884, 0.42185],
    [0.06901, 0.04991, 0.42724, 0.43158],
    [0.57006, 0.04645, 0.42094, 0.43911],
]
title_pos = [(0.062, 0.853), (0.074, 0.853), (0.086, 0.830), (0.071, 0.835)]
stat_pos = [(0.840, [0.140, 0.093, 0.047]), (0.842, [0.143, 0.095, 0.047]),
            (0.836, [0.142, 0.093, 0.047]), (0.833, [0.150, 0.100, 0.055])]
ylabel_pos = [(-0.1015, 0.5), (-0.0817, 0.49), (-0.0815, 0.5), (-0.0948, 0.5)]
xlabel_y = [-0.080, -0.0885, -0.082, -0.084]

fig = plt.figure(figsize=(33.33, 31.86), dpi=100)

for i in range(4):
    ax = fig.add_axes(rects[i])
    lo, hi, step = limits[i]
    x, y = data[i]
    ax.scatter(x, y, s=62, color=DOT_COLOR, edgecolors='none', zorder=2, clip_on=False)
    # 1:1 line
    ax.plot([lo, hi], [lo, hi], color='black', lw=2.2, dashes=(7, 6), zorder=3)
    # regression line
    fx = np.array(fit_ranges[i])
    ax.plot(fx, slopes[i] * fx + intercepts[i], color='black', lw=5.0,
            solid_capstyle='round', zorder=3)
    ax.set_xlim(lo, hi)
    ax.set_ylim(lo, hi)
    ax.xaxis.set_major_locator(MultipleLocator(step))
    ax.yaxis.set_major_locator(MultipleLocator(step))
    ax.xaxis.set_major_formatter(FormatStrFormatter('%.1f'))
    ax.yaxis.set_major_formatter(FormatStrFormatter('%.1f'))
    for sp in ax.spines.values():
        sp.set_linewidth(5.4)
    ax.tick_params(axis='both', direction='inout', length=21.6, width=5.4,
                   labelsize=37)
    ax.tick_params(axis='x', pad=33)
    ax.tick_params(axis='y', pad=23)
    for lab in ax.get_xticklabels() + ax.get_yticklabels():
        lab.set_fontweight('bold')
    ax.set_xlabel(xlabels[i], fontsize=37, fontweight='bold')
    ax.set_ylabel("TCC (mm/day)", fontsize=37, fontweight='bold')
    ax.xaxis.set_label_coords(0.5, xlabel_y[i])
    ax.yaxis.set_label_coords(*ylabel_pos[i])
    tx, ty = title_pos[i]
    ax.text(tx, ty, titles[i], transform=ax.transAxes, fontsize=68,
            color=TITLE_COLOR, ha='left', va='baseline')
    sx, sys_ = stat_pos[i]
    for line, yy in zip(stat_lines[i], sys_):
        ax.text(sx, yy, line, transform=ax.transAxes, fontsize=36.5,
                fontweight='bold', ha='center', va='baseline')

fig.savefig("out.png", dpi=100)
